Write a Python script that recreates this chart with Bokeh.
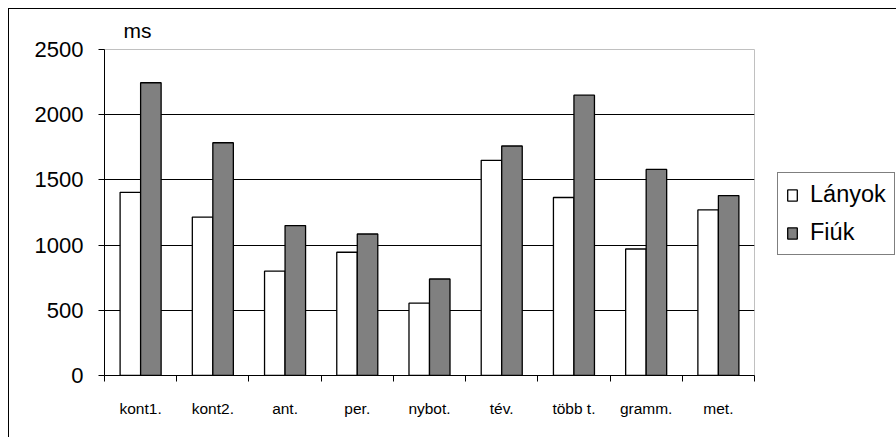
from bokeh.plotting import figure
from bokeh.layouts import row
from bokeh.models import FixedTicker, Legend, LegendItem, Title
from bokeh.transform import dodge
from bokeh.embed import file_html
from bokeh.resources import INLINE

categories = ["kont1.", "kont2.", "ant.", "per.", "nybot.", "tév.", "több t.", "gramm.", "met."]
lanyok = [1405, 1215, 800, 945, 555, 1650, 1365, 970, 1270]
fiuk = [2245, 1785, 1150, 1085, 740, 1760, 2150, 1580, 1380]
y_ticks = [0, 500, 1000, 1500, 2000, 2500]
series_names = ["Lányok", "Fiúk"]
series_keys = ["lanyok", "fiuk"]
series_fills = ["white", "#808080"]

FONT = "Liberation Sans"

centers = [i + 0.5 for i in range(len(categories))]
source = dict(x=centers, lanyok=lanyok, fiuk=fiuk)

p = figure(
    width=746, height=428,
    x_range=(0, len(categories)), y_range=(0, 2500),
    output_backend="svg", toolbar_location=None,
    min_border_left=95, min_border_right=1,
    min_border_top=40, min_border_bottom=62,
    background_fill_color="white", border_fill_color="white",
)
p.outline_line_color = "#c0c0c0"

# unit label above the value axis
p.title = Title(text="ms", align="left", offset=19, text_font=FONT,
                text_font_size="21px", text_font_style="normal", text_color="black",
                text_line_height=1.0, standoff=15)

bw = 0.284
for key, fill, shift in zip(series_keys, series_fills, (-bw / 2, bw / 2)):
    p.vbar(x=dodge("x", shift), top=key, width=bw, bottom=0, source=source,
           fill_color=fill, line_color="black", line_width=1.3)

# y axis
p.yaxis.ticker = FixedTicker(ticks=y_ticks)
p.yaxis.axis_line_color = "black"
p.yaxis.major_tick_out = 6
p.yaxis.major_tick_in = 0
p.yaxis.minor_tick_line_color = None
p.yaxis.major_label_text_font = FONT
p.yaxis.major_label_text_font_size = "22px"
p.yaxis.major_label_text_color = "black"
p.yaxis.major_label_standoff = 15

p.ygrid.ticker = FixedTicker(ticks=y_ticks[1:-1])
p.ygrid.grid_line_color = "black"
p.ygrid.grid_line_width = 1
p.xgrid.grid_line_color = None

# x axis: labels at category centres, tick marks on category boundaries
p.xaxis.ticker = FixedTicker(ticks=centers, minor_ticks=list(range(len(categories) + 1)))
p.xaxis.major_label_overrides = {c: lab for c, lab in zip(centers, categories)}
p.xaxis.axis_line_color = "black"
p.xaxis.major_tick_out = 0
p.xaxis.major_tick_in = 0
p.xaxis.minor_tick_out = 6
p.xaxis.minor_tick_in = 0
p.xaxis.minor_tick_line_color = "black"
p.xaxis.major_label_text_font = FONT
p.xaxis.major_label_text_font_size = "15.5px"
p.xaxis.major_label_text_color = "black"
p.xaxis.major_label_standoff = 18

# legend panel to the right of the plot area; its series renderers are
# kept muted with fully transparent muted glyphs, so only the swatches show
lf = figure(
    width=141, height=428, x_range=(0, len(categories)), y_range=(0, 2500),
    output_backend="svg", toolbar_location=None,
    x_axis_location=None, y_axis_location=None, min_border=0,
    background_fill_color="white", border_fill_color="white",
)
lf.outline_line_color = None
lf.xgrid.visible = False
lf.ygrid.visible = False

items = []
for name, key, fill in zip(series_names, series_keys, series_fills):
    r = lf.vbar(x="x", top=key, bottom=0, width=bw, source=source,
                fill_color=fill, line_color="black", line_width=1.3,
                muted_fill_alpha=0, muted_line_alpha=0)
    r.muted = True
    items.append(LegendItem(label=name, renderers=[r]))

legend = Legend(
    items=items, location=(22, 120),
    border_line_color="black", border_line_width=1,
    background_fill_color="white", background_fill_alpha=1,
    label_text_font=FONT, label_text_font_size="23.5px", label_text_color="black",
    glyph_width=12, glyph_height=14, label_standoff=12,
    padding=8, spacing=11, margin=0,
    inactive_fill_alpha=0,
)
lf.add_layout(legend)

layout = row(p, lf, margin=(8, 0, 0, 8),
             styles={"border-top": "1px solid black", "border-left": "1px solid black"})

open("out.html", "w").write(file_html(layout, INLINE))
